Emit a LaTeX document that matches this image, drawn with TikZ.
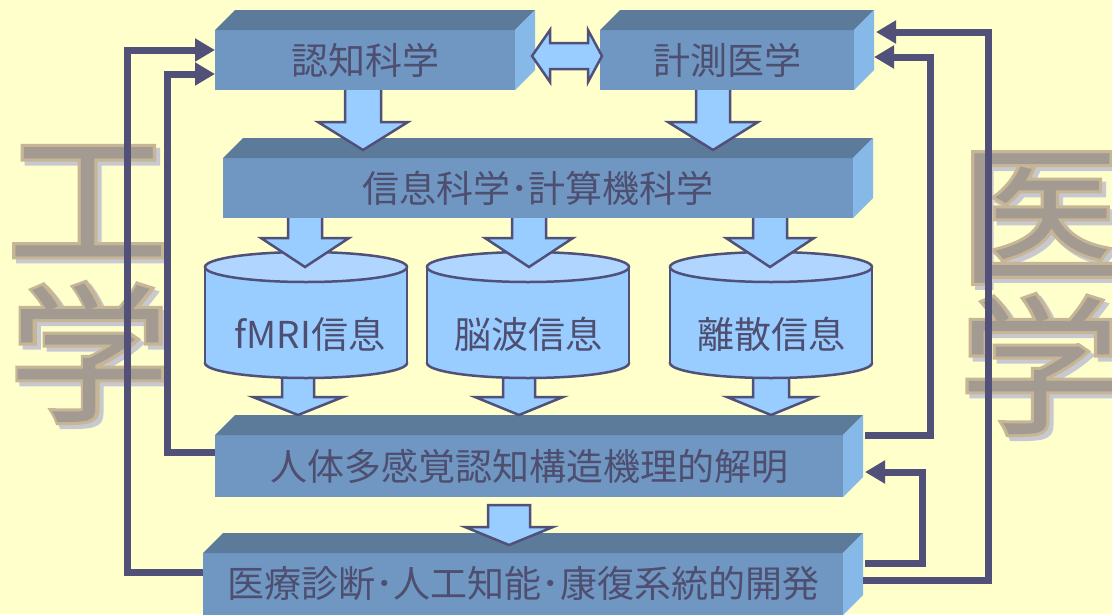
\documentclass[tikz,border=0pt]{standalone}
\usepackage{fontspec}
\setmainfont{Noto Sans CJK JP}
\newfontfamily\bigbold[FakeBold=4]{Noto Sans CJK JP}
\usetikzlibrary{calc,arrows.meta}
\definecolor{bg}{HTML}{FFFFCC}
\definecolor{topc}{HTML}{5C7B9B}
\definecolor{frontc}{HTML}{6F97C2}
\definecolor{sidec}{HTML}{86B8E8}
\definecolor{txt}{HTML}{4E4E70}
\definecolor{navy}{HTML}{505078}
\definecolor{ablue}{HTML}{99CCFF}
\definecolor{cyltop}{HTML}{B0D6FF}
\definecolor{stone}{HTML}{A39A92}
\definecolor{stoneborder}{HTML}{C6B696}
\definecolor{stoneshadow}{HTML}{C8C8D0}
\tikzset{
  frame/.style={rectangle, inner sep=0pt, outer sep=0pt},
  boxtext/.style={text=txt, font=\fontsize{37}{40}\selectfont, inner sep=0pt},
  barrow/.style={draw=navy, fill=ablue, line width=2.5pt, line join=miter},
  cylline/.style={draw=navy, line width=2.5pt},
  conn/.style={draw=navy, line width=7pt, line join=miter, -{Triangle[length=20pt,width=22pt]}},
  bigch/.style={font=\fontsize{150}{155}\selectfont, inner sep=0pt, anchor=base, xscale=1.08},
  bigbd/.style={font=\bigbold\fontsize{150}{155}\selectfont, inner sep=0pt, anchor=base, xscale=1.08},
}
\newcommand\drawbox[1]{%
  \fill[frontc] (#1.south west) rectangle (#1.north east);
  \fill[topc] (#1.north west) -- ++(20,-20) -- ($(#1.north east)+(20,-20)$) -- (#1.north east) -- cycle;
  \fill[sidec] (#1.north east) -- ++(20,-20) -- ($(#1.south east)+(20,-20)$) -- (#1.south east) -- cycle;
}
\newcommand\bdarrow[5]{%
  \draw[barrow] let \p1=(#1), \p2=(#2) in
    (\x1-#3pt,\y1) -- (\x1+#3pt,\y1) -- (\x1+#3pt,\y2+#5pt) -- (\x1+#4pt,\y2+#5pt)
    -- (\x1,\y2) -- (\x1-#4pt,\y2+#5pt) -- (\x1-#3pt,\y2+#5pt) -- cycle;
}
\newcommand\drawcyl[1]{%
  \filldraw[cylline, fill=ablue] ($(#1.south)+(0,-15)$) ellipse [x radius=101, y radius=15];
  \fill[ablue] ($(#1.north west)+(0,15)$) rectangle ($(#1.south east)+(0,-15)$);
  \draw[cylline] ($(#1.north west)+(0,15)$) -- ($(#1.south west)+(0,-15)$)
                 ($(#1.north east)+(0,15)$) -- ($(#1.south east)+(0,-15)$);
  \filldraw[cylline, fill=cyltop] ($(#1.north)+(0,15)$) ellipse [x radius=101, y radius=15];
}
\newcommand\stonechar[4]{% name, x, y(baseline), char
  \node[bigbd, text=stoneshadow] (#1s) at (#2+4,#3+4) {#4};
  \node[bigbd, text=stoneborder] (#1b) at (#2,#3) {#4};
  \node[bigch, text=stone] (#1) at (#2,#3) {#4};
}
\begin{document}
\begin{tikzpicture}[x=1pt, y=-1pt]
\useasboundingbox (0,0) rectangle (1112,614);
\fill[bg] (0,0) rectangle (1112,614);

% big stone characters
\stonechar{k1}{88}{256}{工}
\stonechar{k2}{90}{410}{学}
\stonechar{k3}{1040}{271}{医}
\stonechar{k4}{1040}{422}{学}

% frames
\node[frame, minimum width=300, minimum height=60] (b1) at (365,60) {};
\node[frame, minimum width=254, minimum height=60] (b2) at (727,60) {};
\node[frame, minimum width=630, minimum height=60] (b3) at (538,188) {};
\node[frame, minimum width=628, minimum height=62] (b4) at (529,466) {};
\node[frame, minimum width=640, minimum height=62] (b5) at (523,584) {};
\node[frame, minimum width=202, minimum height=126] (c1) at (306,315) {};
\node[frame, minimum width=202, minimum height=126] (c2) at (528,315) {};
\node[frame, minimum width=202, minimum height=126] (c3) at (771,315) {};

% bottom part
\drawbox{b5}
\bdarrow{$(b4.south)+(-20,8)$}{$(b5.north)+(0,-8)$}{21}{44}{18}
\drawbox{b4}
\bdarrow{$(c1.south)+(-8,-8)$}{$(b4.north)+(0,-20)$}{16}{45}{18}
\bdarrow{$(c2.south)+(-9,-8)$}{$(b4.north)+(0,-20)$}{16}{44}{18}
\bdarrow{$(c3.south)+(0,-8)$}{$(b4.north)+(0,-20)$}{18}{44}{18}
\drawcyl{c1}
\drawcyl{c2}
\drawcyl{c3}
\bdarrow{$(b3.south -| c1)+(-1,-8)$}{$(c1.north)+(0,15)$}{17}{44}{29}
\bdarrow{$(b3.south -| c2)+(1,-8)$}{$(c2.north)+(0,15)$}{17}{44}{29}
\bdarrow{$(b3.south -| c3)+(-1,-8)$}{$(c3.north)+(0,15)$}{17}{44}{29}
\drawbox{b3}
\bdarrow{$(b1.south)+(-2,-8)$}{$(b3.north)+(0,-8)$}{18}{45}{28}
\bdarrow{$(b2.south)+(-14,-8)$}{$(b3.north)+(0,-8)$}{17}{45}{28}
\drawbox{b1}
\drawbox{b2}

% double arrow between b1 and b2
\draw[barrow] let \p1=($(b1.east)+(17,-4)$), \p2=($(b2.west)+(2,-4)$) in
  (\x1,\y1) -- (\x1+18pt,\y1+26pt) -- (\x1+18pt,\y1+13pt) -- (\x2-14pt,\y1+13pt)
  -- (\x2-14pt,\y1+26pt) -- (\x2,\y2) -- (\x2-14pt,\y1-26pt) -- (\x2-14pt,\y1-13pt)
  -- (\x1+18pt,\y1-13pt) -- (\x1+18pt,\y1-26pt) -- cycle;

% texts
\node[boxtext] (t1) at (b1) {認知科学};
\node[boxtext] (t2) at (b2) {計測医学};
\node[boxtext] (t3) at (b3) {信息科学･計算機科学};
\node[boxtext] (t4) at (b4) {人体多感覚認知構造機理的解明};
\node[boxtext] (t5) at (b5) {医療診断･人工知能･康復系統的開発};
\node[boxtext] (tc1) at ($(c1)+(4,19)$) {fMRI信息};
\node[boxtext] (tc2) at ($(c2)+(0,19)$) {脳波信息};
\node[boxtext] (tc3) at ($(c3)+(0,19)$) {離散信息};

% feedback connectors
\draw[conn] ($(b5.west)+(0,-12)$) -- ++(-76,0) |- ($(b1.west)+(0,-10)$);
\draw[conn] ($(b4.west)+(0,-14)$) -- ++(-48,0) |- ($(b1.west)+(0,14)$);
\draw[conn] ($(b5.east)+(20,-4)$) -- ++(125,0) |- ($(b2.east)+(22,-28)$);
\draw[conn] ($(b4.north east)+(22,0)$) -- ++(65,0) |- ($(b2.east)+(20,-3)$);
\draw[conn] ($(b5.east)+(22,-21)$) -- ++(57,0) |- ($(b4.east)+(22,6)$);
\end{tikzpicture}
\end{document}
